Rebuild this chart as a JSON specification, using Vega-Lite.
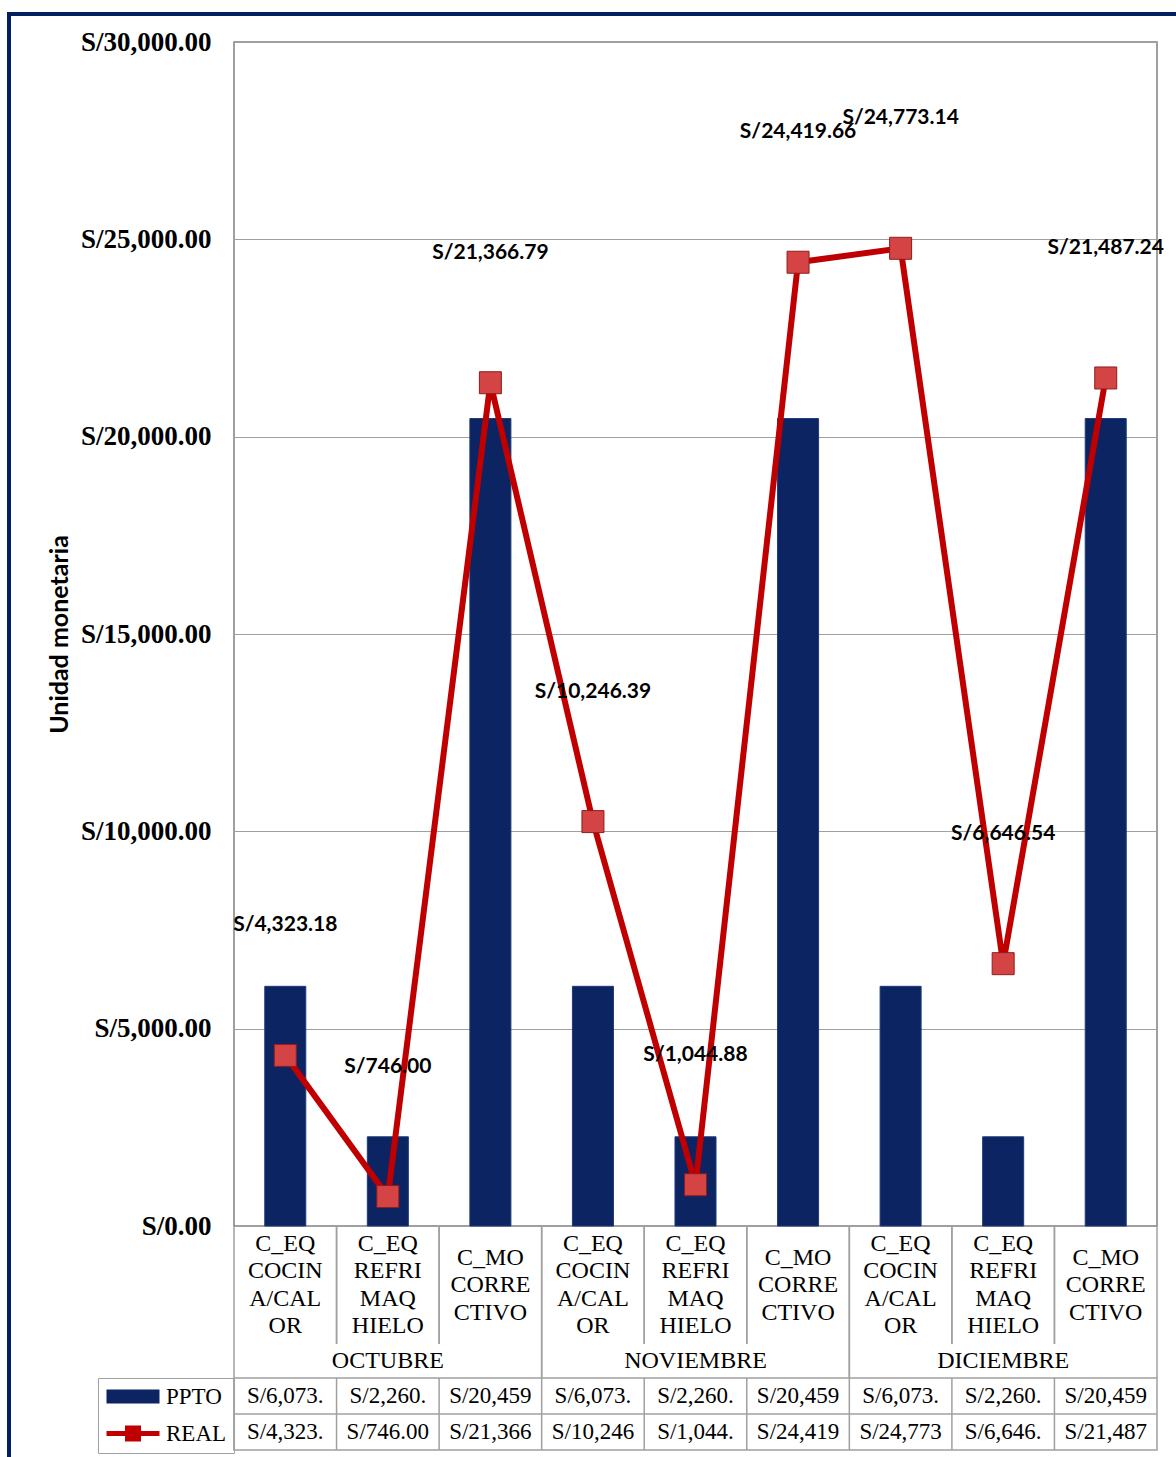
{
  "$schema": "https://vega.github.io/schema/vega-lite/v6.json",
  "padding": {"left": 7, "top": 12, "right": 0, "bottom": 0},
  "background": "white",
  "config": {"view": {"stroke": null}},
  "datasets": {
    "d": [
      {"mes": "OCTUBRE", "cat": "C_EQ COCINA/CALOR", "key": "OCTUBRE|C_EQ COCINA/CALOR", "PPTO": 6073.0, "REAL": 4323.18},
      {"mes": "OCTUBRE", "cat": "C_EQ REFRI MAQ HIELO", "key": "OCTUBRE|C_EQ REFRI MAQ HIELO", "PPTO": 2260.0, "REAL": 746.0},
      {"mes": "OCTUBRE", "cat": "C_MO CORRECTIVO", "key": "OCTUBRE|C_MO CORRECTIVO", "PPTO": 20459.0, "REAL": 21366.79},
      {"mes": "NOVIEMBRE", "cat": "C_EQ COCINA/CALOR", "key": "NOVIEMBRE|C_EQ COCINA/CALOR", "PPTO": 6073.0, "REAL": 10246.39},
      {"mes": "NOVIEMBRE", "cat": "C_EQ REFRI MAQ HIELO", "key": "NOVIEMBRE|C_EQ REFRI MAQ HIELO", "PPTO": 2260.0, "REAL": 1044.88},
      {"mes": "NOVIEMBRE", "cat": "C_MO CORRECTIVO", "key": "NOVIEMBRE|C_MO CORRECTIVO", "PPTO": 20459.0, "REAL": 24419.66},
      {"mes": "DICIEMBRE", "cat": "C_EQ COCINA/CALOR", "key": "DICIEMBRE|C_EQ COCINA/CALOR", "PPTO": 6073.0, "REAL": 24773.14},
      {"mes": "DICIEMBRE", "cat": "C_EQ REFRI MAQ HIELO", "key": "DICIEMBRE|C_EQ REFRI MAQ HIELO", "PPTO": 2260.0, "REAL": 6646.54},
      {"mes": "DICIEMBRE", "cat": "C_MO CORRECTIVO", "key": "DICIEMBRE|C_MO CORRECTIVO", "PPTO": 20459.0, "REAL": 21487.24}
    ]
  },
  "spacing": 0,
  "vconcat": [
    {
      "width": 1169, "height": 4,
      "data": {"values": [{}]},
      "mark": {"type": "point", "opacity": 0, "size": 0},
      "encoding": {},
      "view": {"fill": "#002060", "stroke": null}
    },
    {
      "spacing": 35,
      "hconcat": [
        {
          "width": 4, "height": 1441,
          "data": {"values": [{}]},
          "mark": {"type": "point", "opacity": 0, "size": 0},
          "encoding": {},
          "view": {"fill": "#002060", "stroke": null}
        },
        {
          "spacing": 0,
          "bounds": "flush",
          "resolve": {"scale": {"x": "independent", "y": "independent", "color": "independent", "shape": "independent"}},
          "vconcat": [
            {
              "width": 923, "height": 26,
              "data": {"values": [{}]},
              "mark": {"type": "point", "opacity": 0, "size": 0},
              "encoding": {}
            },
            {
              "width": 923, "height": 1184,
              "data": {"name": "d"},
              "view": {"stroke": "#808080", "strokeWidth": 1.5},
              "encoding": {
                "x": {"field": "key", "type": "nominal", "sort": null, "scale": {"paddingInner": 0, "paddingOuter": 0}, "axis": null}
              },
              "layer": [
                {
                  "mark": {"type": "bar", "width": {"band": 0.4}, "color": "#0c2461", "stroke": "#1d3a7a", "strokeWidth": 1},
                  "encoding": {
                    "y": {"field": "PPTO", "type": "quantitative", "scale": {"domain": [0, 30000], "nice": false},
                      "axis": {"title": "Unidad monetaria", "titleFont": "Lato", "titleFontWeight": "bold", "titleFontSize": 25, "titleColor": "black", "titlePadding": 8,
                        "values": [0, 5000, 10000, 15000, 20000, 25000, 30000], "labelExpr": "'S/' + format(datum.value, ',.2f')",
                        "labelFont": "Liberation Serif", "labelFontWeight": "bold", "labelFontSize": 27, "labelColor": "black", "labelPadding": 23,
                        "ticks": false, "domain": false, "grid": true, "gridColor": "#a0a0a0", "gridWidth": 1}}
                  }
                },
                {
                  "mark": {"type": "line", "color": "#c00000", "strokeWidth": 6},
                  "encoding": {"y": {"field": "REAL", "type": "quantitative"}}
                },
                {
                  "mark": {"type": "point", "shape": "square", "size": 484, "filled": true, "fill": "#d44444", "stroke": "#8f1d1d", "strokeWidth": 1, "opacity": 1},
                  "encoding": {"y": {"field": "REAL", "type": "quantitative"}}
                },
                {
                  "mark": {"type": "text", "dy": -130, "font": "Lato", "fontWeight": "bold", "fontSize": 21, "color": "black", "text": {"expr": "'S/' + format(datum.REAL, ',.2f')"}},
                  "encoding": {"y": {"field": "REAL", "type": "quantitative"}}
                }
              ]
            },
            {
              "width": 923, "height": 118,
              "data": {"name": "d"},
              "encoding": {
                "x": {"field": "key", "type": "nominal", "sort": null, "scale": {"paddingInner": 0, "paddingOuter": 0}, "axis": null}
              },
              "layer": [
                {
                  "mark": {"type": "rule", "color": "#a0a0a0", "strokeWidth": 1.5},
                  "encoding": {"x": {"field": "key", "type": "nominal", "sort": null, "bandPosition": 0}}
                },
                {
                  "mark": {"type": "rule", "color": "#a0a0a0", "strokeWidth": 1.5},
                  "encoding": {"x": {"field": "key", "type": "nominal", "sort": null, "bandPosition": 1}}
                },
                {
                  "mark": {"type": "text", "font": "Liberation Serif", "fontSize": 24, "lineHeight": 27.5, "baseline": "middle", "color": "black",
                    "dy": {"expr": "indexof(datum.key, 'C_MO') >= 0 ? -27.5 : -41.25"},
                    "text": {"expr": "indexof(datum.key, 'COCINA') >= 0 ? ['C_EQ', 'COCIN', 'A/CAL', 'OR'] : (indexof(datum.key, 'REFRI') >= 0 ? ['C_EQ', 'REFRI', 'MAQ', 'HIELO'] : ['C_MO', 'CORRE', 'CTIVO'])"}},
                  "encoding": {}
                }
              ]
            },
            {
              "width": 923, "height": 34,
              "data": {"name": "d"},
              "transform": [{"aggregate": [{"op": "count", "as": "n"}], "groupby": ["mes"]}],
              "encoding": {
                "x": {"field": "mes", "type": "nominal", "scale": {"domain": ["OCTUBRE", "NOVIEMBRE", "DICIEMBRE"], "paddingInner": 0, "paddingOuter": 0}, "axis": null}
              },
              "layer": [
                {
                  "mark": {"type": "rule", "color": "#a0a0a0", "strokeWidth": 1.5},
                  "encoding": {"x": {"field": "mes", "type": "nominal", "bandPosition": 0}}
                },
                {
                  "mark": {"type": "rule", "color": "#a0a0a0", "strokeWidth": 1.5},
                  "encoding": {"x": {"field": "mes", "type": "nominal", "bandPosition": 1}}
                },
                {
                  "mark": {"type": "text", "font": "Liberation Serif", "fontSize": 24, "baseline": "middle", "color": "black"},
                  "encoding": {"text": {"field": "mes", "type": "nominal"}}
                }
              ]
            },
            {
              "width": 923, "height": 72,
              "data": {"name": "d"},
              "view": {"stroke": "#a0a0a0", "strokeWidth": 1.5},
              "layer": [
                {
                  "mark": {"type": "rule", "color": "#a0a0a0", "strokeWidth": 1.5},
                  "encoding": {
                    "x": {"field": "key", "type": "nominal", "sort": null, "bandPosition": 0, "scale": {"paddingInner": 0, "paddingOuter": 0}, "axis": null}
                  }
                },
                {
                  "transform": [{"fold": ["PPTO", "REAL"], "as": ["serie", "valor"]}, {"filter": "datum.serie == 'REAL'"}, {"aggregate": [{"op": "count", "as": "n"}], "groupby": ["serie"]}],
                  "mark": {"type": "rule", "color": "#a0a0a0", "strokeWidth": 1.5},
                  "encoding": {
                    "y": {"field": "serie", "type": "nominal", "bandPosition": 0, "scale": {"domain": ["PPTO", "REAL"], "paddingInner": 0, "paddingOuter": 0}, "axis": null}
                  }
                },
                {
                  "transform": [{"fold": ["PPTO", "REAL"], "as": ["serie", "valor"]}],
                  "mark": {"type": "text", "font": "Liberation Serif", "fontSize": 23, "color": "black", "limit": 92, "ellipsis": " ", "text": {"expr": "'S/' + format(datum.valor, ',.2f')"}},
                  "encoding": {
                    "x": {"field": "key", "type": "nominal", "sort": null},
                    "y": {"field": "serie", "type": "nominal"}
                  }
                },
                {
                  "transform": [{"fold": ["PPTO", "REAL"], "as": ["serie", "valor"]}],
                  "mark": {"type": "point", "opacity": 0, "filled": true},
                  "encoding": {
                    "x": {"field": "key", "type": "nominal", "sort": null},
                    "y": {"field": "serie", "type": "nominal"},
                    "shape": {"field": "serie", "type": "nominal", "scale": {"domain": ["PPTO", "REAL"], "range": ["M-1,-0.7H4.3V0.7H-1Z", "M-1,-0.25H4.3V0.25H-1Z M0.85,-0.8H2.45V0.8H0.85Z"]},
                      "legend": {"orient": "left", "title": null, "offset": 0, "padding": 7, "strokeColor": "#a0a0a0", "labelFont": "Liberation Serif", "labelFontSize": 23, "labelColor": "black", "symbolSize": 400, "symbolStrokeWidth": 0, "symbolOpacity": 1, "rowPadding": 13, "labelOffset": 38}},
                    "color": {"field": "serie", "type": "nominal", "scale": {"domain": ["PPTO", "REAL"], "range": ["#0c2461", "#c00000"]},
                      "legend": {"orient": "left", "title": null, "offset": 0, "padding": 7, "strokeColor": "#a0a0a0", "labelFont": "Liberation Serif", "labelFontSize": 23, "labelColor": "black", "symbolSize": 400, "symbolStrokeWidth": 0, "symbolOpacity": 1, "rowPadding": 13, "labelOffset": 38}}
                  }
                }
              ]
            }
          ]
        }
      ]
    }
  ]
}
